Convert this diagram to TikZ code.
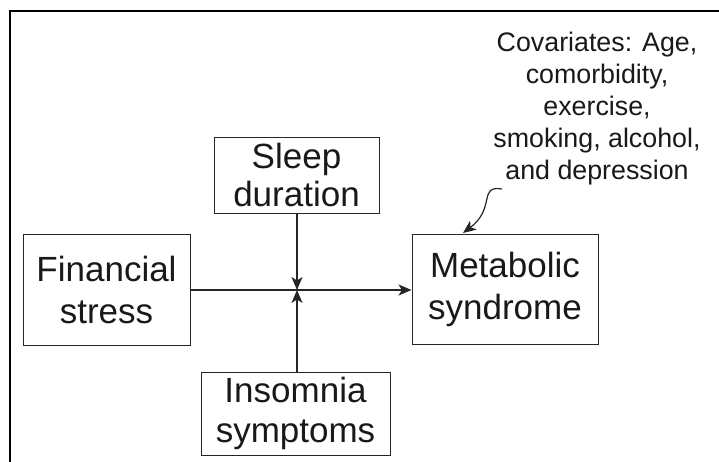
\documentclass[tikz,border=0pt]{standalone}
\usepackage{fontspec}
\setmainfont{Liberation Sans}
\usetikzlibrary{arrows.meta}
\begin{document}
\begin{tikzpicture}[x=1pt,y=-1pt,
  box/.style={draw=black!85, line width=1pt, align=center, inner sep=0pt,
    font=\fontsize{35}{42}\selectfont, text=black!90},
  arr/.style={-{Stealth[length=13pt,width=11pt,inset=3.5pt]}, line width=1.2pt, draw=black!85},
  covtext/.style={align=center, inner sep=0pt, font=\fontsize{26.8}{32}\selectfont, text=black!90}]
\useasboundingbox (0,0) rectangle (719,461);
\draw[line width=2pt] (10,470) -- (10,11) -- (730,11);
\node[box, minimum width=167pt, minimum height=111pt] (fin) at (106.5,289.5) {Financial\\stress};
\node[box, minimum width=165pt, minimum height=76pt, font=\fontsize{35}{38}\selectfont] (sleep) at (296.5,175) {Sleep\\duration};
\node[box, minimum width=189pt, minimum height=83pt, font=\fontsize{35}{40}\selectfont] (ins) at (295.5,413.5) {Insomnia\\symptoms};
\node[box, minimum width=186pt, minimum height=110pt] (met) at (505,289) {Metabolic\\syndrome};
\node[covtext, anchor=north] (cov) at (597,32) {Covariates: Age,\\comorbidity,\\exercise,\\smoking, alcohol,\\and depression};
\coordinate (j) at (297,290);
\coordinate (cs) at (502,189);
\coordinate (ct) at (463,233);
\draw[arr] (fin.east |- j) -- (met.west |- j);
\draw[arr] (sleep.south -| j) -- (j);
\draw[arr] (ins.north -| j) -- (j);
\draw[arr] (cs) .. controls (478,185) and (496,208) .. (ct);
\end{tikzpicture}
\end{document}
